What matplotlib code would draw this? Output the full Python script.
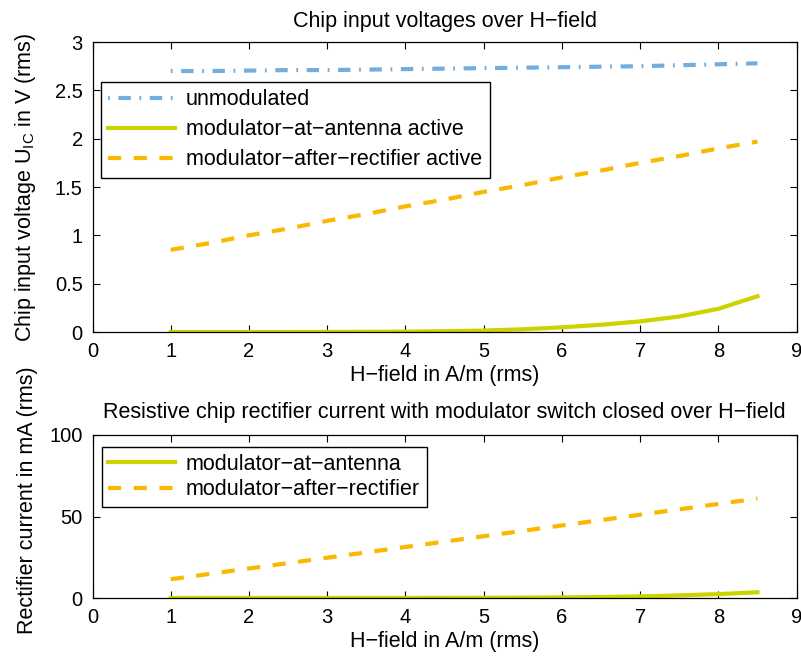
import matplotlib
matplotlib.use('Agg')
import matplotlib.pyplot as plt

plt.rcParams['font.family'] = ['Liberation Sans', 'DejaVu Sans']
plt.rcParams['font.size'] = 15
plt.rcParams['lines.scale_dashes'] = False

# H-field in A/m (rms)
h = [1.0, 1.5, 2.0, 2.5, 3.0, 3.5, 4.0, 4.5, 5.0, 5.5, 6.0, 6.5, 7.0, 7.5, 8.0, 8.5]

# chip input voltage in V (rms)
u_unmod = [2.70, 2.70, 2.705, 2.71, 2.71, 2.715, 2.72, 2.725, 2.73, 2.735, 2.74, 2.745, 2.75, 2.76, 2.77, 2.78]
u_antenna = [0.0, 0.0, 0.0, 0.0, 0.001, 0.002, 0.004, 0.008, 0.015, 0.028, 0.048, 0.075, 0.11, 0.16, 0.24, 0.37]
u_after = [0.85, 0.92, 1.00, 1.07, 1.15, 1.22, 1.30, 1.37, 1.45, 1.52, 1.60, 1.67, 1.75, 1.82, 1.90, 1.97]

# rectifier current in mA (rms)
i_antenna = [0.0, 0.0, 0.0, 0.0, 0.0, 0.0, 0.05, 0.1, 0.15, 0.25, 0.4, 0.6, 1.0, 1.6, 2.4, 3.5]
i_after = [11.5, 14.8, 18.1, 21.4, 24.7, 28.0, 31.3, 34.6, 37.9, 41.2, 44.5, 47.8, 51.1, 54.4, 57.7, 61.0]

c_blue = (0.45, 0.68, 0.87)
c_green = (0.80, 0.83, 0.0)
c_orange = (0.98, 0.72, 0.0)
lw = 3.0
dash_blue = (1.3, 6.2, 8.9, 6.2)   # matlab '-.' starts with the dot
dash_orange = (9.5, 9.0)

fig = plt.figure(figsize=(8.01, 6.56), dpi=100)
ax1 = fig.add_axes([0.1155, 0.4939, 0.879, 0.442])
ax2 = fig.add_axes([0.1155, 0.0884, 0.879, 0.2485])

ax1.plot(h, u_unmod, color=c_blue, lw=lw, dashes=dash_blue, label='unmodulated')
ax1.plot(h, u_antenna, color=c_green, lw=lw, label='modulator\u2212at\u2212antenna active')
ax1.plot(h, u_after, color=c_orange, lw=lw, dashes=dash_orange, label='modulator\u2212after\u2212rectifier active')
ax1.set_ylim(0, 3)
ax1.set_yticks([0, 0.5, 1, 1.5, 2, 2.5, 3])
ax1.set_yticklabels(['0', '0.5', '1', '1.5', '2', '2.5', '3'])
ax1.set_title('Chip input voltages over H\u2212field', fontsize=15.5, pad=11)
ax1.set_ylabel('Chip input voltage U$_\\mathregular{IC}$ in V (rms)', fontsize=15.5)
ax1.yaxis.set_label_coords(-0.077, 0.5)
ax1.legend(loc='upper left', bbox_to_anchor=(0.012, 0.863), fontsize=15.5, handlelength=3.1,
           handletextpad=0.5, fancybox=False, edgecolor='black', framealpha=1,
           borderaxespad=0, labelspacing=0.42, borderpad=0.35)

ax2.plot(h, i_antenna, color=c_green, lw=lw, label='modulator\u2212at\u2212antenna')
ax2.plot(h, i_after, color=c_orange, lw=lw, dashes=dash_orange, label='modulator\u2212after\u2212rectifier')
ax2.set_ylim(0, 100)
ax2.set_yticks([0, 50, 100])
ax2.set_title('Resistive chip rectifier current with modulator switch closed over H\u2212field',
              fontsize=15.5, pad=12)
ax2.set_ylabel('Rectifier current in mA (rms)', fontsize=15.5)
ax2.yaxis.set_label_coords(-0.077, 0.6)
ax2.legend(loc='upper left', bbox_to_anchor=(0.0135, 0.926), fontsize=15.5, handlelength=3.1,
           handletextpad=0.5, fancybox=False, edgecolor='black', framealpha=1,
           borderaxespad=0, labelspacing=0.22, borderpad=0.3)

for ax in (ax1, ax2):
    ax.set_xlim(0, 9)
    ax.set_xticks(range(0, 10))
    ax.set_xlabel('H\u2212field in A/m (rms)', fontsize=15.5, labelpad=3)
    ax.tick_params(direction='in', top=True, right=True, length=5, width=0.8,
                   labelsize=14.5, pad=7)
    for s in ax.spines.values():
        s.set_linewidth(0.9)

fig.savefig('out.png', dpi=100)
